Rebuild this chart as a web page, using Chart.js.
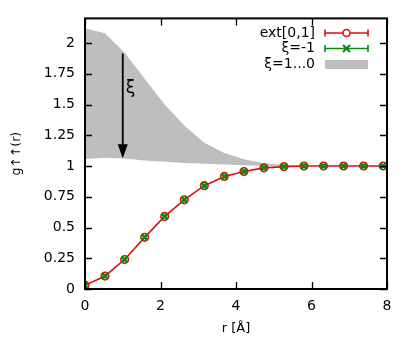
<!DOCTYPE html>
<html>
<head>
<meta charset="utf-8">
<script src="https://cdn.jsdelivr.net/npm/chart.js@4/dist/chart.umd.min.js"></script>
<style>
  body { margin: 0; background: #fff; }
  canvas { display: block; }
</style>
</head>
<body>
<canvas id="gChart" width="414" height="343"></canvas>
<script>
// ===== DATA =====
const rValues = [0, 0.53, 1.05, 1.58, 2.11, 2.63, 3.16, 3.69, 4.21, 4.74, 5.27, 5.8, 6.32, 6.85, 7.38, 7.9];
const gExt = [0.03, 0.105, 0.24, 0.42, 0.59, 0.725, 0.84, 0.915, 0.955, 0.985, 0.995, 1.0, 1.0, 1.0, 1.0, 1.0];
const gXiMinus = [0.03, 0.105, 0.24, 0.42, 0.59, 0.725, 0.84, 0.915, 0.955, 0.985, 0.995, 1.0, 1.0, 1.0, 1.0, 1.0];
const bandUpper = [2.12, 2.08, 1.92, 1.71, 1.50, 1.33, 1.19, 1.105, 1.055, 1.022, 1.008, 1.002, 1.0, 1.0, 1.0, 1.0];
const bandLower = [1.056, 1.067, 1.06, 1.045, 1.035, 1.025, 1.018, 1.012, 1.007, 1.003, 1.0, 1.0, 1.0, 1.0, 1.0, 1.0];

const xTicks = [0, 2, 4, 6, 8];
const yTicks = [0, 0.25, 0.5, 0.75, 1, 1.25, 1.5, 1.75, 2];
const yTickLabels = ['0', '0.25', '0.5', '0.75', '1', '1.25', '1.5', '1.75', '2'];

const seriesLabels = ['ext[0,1]', 'ξ=-1', 'ξ=1...0'];

// arrow annotation (data coords): from upper to lower edge of band
const arrowR = 1.0;
const arrowFrom = 1.915;
const arrowTo = 1.062;

const FONT = 'DejaVu Sans';
const RED = '#dd1111';
const GREEN = '#0b8a0b';
const GRAY = '#bebebe';

function pts(ys) {
    return rValues.map((r, i) => ({ x: r, y: ys[i] }));
}

// ===== FRAME / TICKS / LEGEND / ARROW =====
const framePlugin = {
    id: 'frame',
    afterDatasetsDraw(chart) {
        const ctx = chart.ctx;
        const a = chart.chartArea;
        const xs = chart.scales.x;
        const ys = chart.scales.y;
        ctx.save();

        // arrow
        const ax = xs.getPixelForValue(arrowR);
        const ay1 = ys.getPixelForValue(arrowFrom);
        const ay2 = ys.getPixelForValue(arrowTo);
        ctx.strokeStyle = '#000';
        ctx.fillStyle = '#000';
        ctx.lineWidth = 1.8;
        ctx.beginPath();
        ctx.moveTo(ax, ay1);
        ctx.lineTo(ax, ay2 - 12);
        ctx.stroke();
        ctx.beginPath();
        ctx.moveTo(ax, ay2);
        ctx.lineTo(ax - 5, ay2 - 14);
        ctx.lineTo(ax + 5, ay2 - 14);
        ctx.closePath();
        ctx.fill();
        ctx.font = '17px "' + FONT + '"';
        ctx.textAlign = 'left';
        ctx.textBaseline = 'middle';
        ctx.fillText('ξ', ax + 3, (ay1 + ay2) / 2 - 17);

        // inner ticks on all sides
        ctx.lineWidth = 1.3;
        ctx.beginPath();
        xTicks.forEach(v => {
            const px = Math.round(xs.getPixelForValue(v)) + 0.5;
            ctx.moveTo(px, a.bottom); ctx.lineTo(px, a.bottom - 7);
            ctx.moveTo(px, a.top); ctx.lineTo(px, a.top + 7);
        });
        yTicks.forEach(v => {
            const py = Math.round(ys.getPixelForValue(v)) + 0.5;
            ctx.moveTo(a.left, py); ctx.lineTo(a.left + 7, py);
            ctx.moveTo(a.right, py); ctx.lineTo(a.right - 7, py);
        });
        ctx.stroke();

        // box
        ctx.lineWidth = 2;
        ctx.strokeRect(a.left, a.top, a.right - a.left, a.bottom - a.top);

        // legend
        const textRight = 315;
        const sx1 = 325, sx2 = 368, smid = (sx1 + sx2) / 2;
        const rows = [33, 48.5, 64.5];
        ctx.font = '14px "' + FONT + '"';
        ctx.textAlign = 'right';
        ctx.textBaseline = 'middle';
        ctx.fillStyle = '#000';
        seriesLabels.forEach((t, i) => ctx.fillText(t, textRight, rows[i]));

        [RED, GREEN].forEach((c, i) => {
            const y = rows[i];
            ctx.strokeStyle = c;
            ctx.lineWidth = 1.6;
            ctx.beginPath();
            ctx.moveTo(sx1, y); ctx.lineTo(sx2, y);
            ctx.moveTo(sx1, y - 3.5); ctx.lineTo(sx1, y + 3.5);
            ctx.moveTo(sx2, y - 3.5); ctx.lineTo(sx2, y + 3.5);
            ctx.stroke();
            ctx.beginPath();
            if (i === 0) {
                ctx.fillStyle = '#fff';
                ctx.arc(smid, y, 3.5, 0, Math.PI * 2);
                ctx.fill();
                ctx.stroke();
            } else {
                ctx.lineWidth = 2;
                ctx.moveTo(smid - 3.5, y - 3.5); ctx.lineTo(smid + 3.5, y + 3.5);
                ctx.moveTo(smid - 3.5, y + 3.5); ctx.lineTo(smid + 3.5, y - 3.5);
                ctx.stroke();
            }
        });
        ctx.fillStyle = GRAY;
        ctx.fillRect(sx1, rows[2] - 4.5, sx2 - sx1, 9);

        ctx.restore();
    }
};

// ===== CHART =====
new Chart(document.getElementById('gChart'), {
    type: 'scatter',
    data: {
        datasets: [
            {
                label: seriesLabels[1],
                data: pts(gXiMinus),
                showLine: false,
                pointStyle: 'crossRot',
                pointRadius: 4,
                borderColor: GREEN,
                backgroundColor: GREEN,
                pointBorderWidth: 2.6,
                order: 0
            },
            {
                label: seriesLabels[0],
                data: pts(gExt),
                showLine: true,
                borderColor: RED,
                borderWidth: 1.6,
                pointStyle: 'circle',
                pointRadius: 3.8,
                pointBorderWidth: 1.6,
                pointBackgroundColor: 'rgba(255,255,255,0)',
                pointBorderColor: RED,
                order: 1
            },
            {
                label: 'band lower',
                data: pts(bandLower),
                showLine: true,
                borderWidth: 0,
                borderColor: 'rgba(0,0,0,0)',
                pointRadius: 0,
                fill: false,
                order: 3
            },
            {
                label: seriesLabels[2],
                data: pts(bandUpper),
                showLine: true,
                borderWidth: 0,
                borderColor: 'rgba(0,0,0,0)',
                backgroundColor: GRAY,
                pointRadius: 0,
                fill: '-1',
                order: 2
            }
        ]
    },
    options: {
        responsive: false,
        animation: false,
        events: [],
        layout: { padding: { left: 0, right: 27, top: 17, bottom: 0 } },
        plugins: {
            legend: { display: false },
            tooltip: { enabled: false },
            filler: { propagate: false }
        },
        scales: {
            x: {
                type: 'linear',
                min: 0,
                max: 8,
                afterBuildTicks: s => { s.ticks = xTicks.map(v => ({ value: v })); },
                afterFit: s => { s.height = 54; },
                grid: { display: false, drawTicks: false },
                border: { display: false },
                ticks: {
                    color: '#000',
                    padding: 9,
                    maxRotation: 0,
                    font: { family: FONT, size: 14 }
                },
                title: {
                    display: true,
                    text: 'r [Å]',
                    color: '#000',
                    font: { family: FONT, size: 13 },
                    padding: { top: 0, bottom: 7 }
                }
            },
            y: {
                type: 'linear',
                min: 0,
                max: 2.2,
                afterBuildTicks: s => { s.ticks = yTicks.map(v => ({ value: v })); },
                afterFit: s => { s.width = 85; },
                grid: { display: false, drawTicks: false },
                border: { display: false },
                ticks: {
                    color: '#000',
                    padding: 10,
                    font: { family: FONT, size: 14 },
                    callback: (v, i) => yTickLabels[i]
                },
                title: {
                    display: true,
                    text: 'g↑↑(r)',
                    color: '#000',
                    font: { family: FONT, size: 12.5 },
                    padding: { top: 9, bottom: 0 }
                }
            }
        }
    },
    plugins: [framePlugin]
});
</script>
</body>
</html>
